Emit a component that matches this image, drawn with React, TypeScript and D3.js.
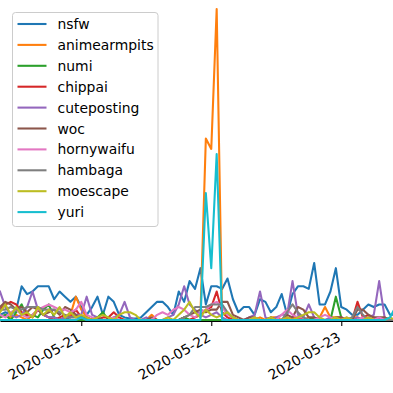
import React, { useEffect, useRef } from 'react';
import * as d3 from 'd3';

// hourly counts starting 2020-05-20 09:00 UTC
const startTime = new Date(Date.UTC(2020, 4, 20, 9));
const endTime = new Date(Date.UTC(2020, 4, 23, 9, 33));

const tickDates = ['2020-05-21', '2020-05-22', '2020-05-23'];

const seriesNames = ['nsfw', 'animearmpits', 'numi', 'chippai', 'cuteposting', 'woc', 'hornywaifu', 'hambaga', 'moescape', 'yuri'];
const colors = ['#1f77b4', '#ff7f0e', '#2ca02c', '#d62728', '#9467bd', '#8c564b', '#e377c2', '#7f7f7f', '#bcbd22', '#17becf'];

const nsfw = [
  1, 1.5, 1, 2, 6.5, 5, 5.5, 6.5, 6.5, 6.5,
  4, 5.5, 4.5, 3.5, 4.5, 2.5, 1, 2.5, 4.5, 1,
  4.5, 3.5, 1, 0.5, 0.3, 0.3, 0.5, 1.5, 2.5, 3.5,
  3.5, 2.5, 1, 5.5, 3.5, 7.5, 6, 10, 3, 6.5,
  6.5, 6, 8, 4, 1.5, 2.5, 2.5, 1, 4, 3.5,
  1.5, 2.5, 5, 1, 5, 6.5, 6.5, 6, 11, 3,
  3, 5.5, 10, 2.5, 2, 1, 1, 2, 3, 2.5,
  3, 3, 1, 1,
];
const animearmpits = [
  0.5, 1, 0.5, 1, 0.5, 0, 1, 2, 1, 0.5,
  0.5, 0, 0.5, 1, 4.5, 2, 0.5, 0, 0.5, 0,
  0, 0.5, 0, 0, 0, 0, 0, 0, 1, 0,
  0, 0, 0, 0, 0.5, 0, 0.5, 1, 35, 33,
  60, 0, 0, 0.5, 0, 0, 0, 0, 0.5, 0,
  0.5, 0.5, 0, 0, 0.5, 0.5, 0, 0.5, 0, 0.5,
  2.5, 0.5, 0.5, 0.5, 0, 0.5, 0.5, 0, 0.5, 0,
  0.5, 0, 0, 0,
];
const numi = [
  0.5, 1, 0, 1.5, 3, 0.5, 1, 0.5, 2, 3,
  0.5, 0, 0.5, 0, 0, 0, 0, 0, 0.5, 1.5,
  0, 0, 0, 0, 0, 0, 0, 0, 0, 0,
  0, 0, 0, 0, 0.5, 0, 0, 0, 0, 0,
  0, 0, 0, 0, 0, 0, 0, 0.5, 0, 0,
  0, 0, 0, 0, 0, 0, 0, 0, 0.5, 0,
  0, 0, 4.5, 0.5, 0, 0, 0, 0, 0, 0,
  0, 0, 0, 0,
];
const chippai = [
  2, 3, 3.5, 3, 1.5, 1, 0.5, 2, 1, 0.5,
  0, 0.5, 1, 0.5, 2, 0.5, 0.5, 0, 0, 0.5,
  0.5, 1.5, 0.5, 0, 0, 0, 0, 0, 0, 0,
  0, 0, 0, 0, 0, 0, 0.5, 1, 2, 2.5,
  5.5, 1.5, 0.5, 0, 0, 0, 0, 0, 0, 0,
  0, 0, 0, 0.5, 0, 0.5, 0, 0, 0, 0,
  0, 0, 0, 0.5, 0, 0, 3.5, 0.5, 1, 0.5,
  0, 0.5, 0, 0,
];
const cuteposting = [
  5.5, 2.5, 1, 0.5, 1, 2.5, 5.5, 2, 1, 0.5,
  0.5, 0, 0.5, 0.5, 1, 1, 4.5, 1, 0.5, 0,
  0, 0.5, 1, 3.5, 0.5, 0, 0, 0.5, 0, 0,
  0, 0.5, 1, 3, 6.5, 3, 2, 1, 0.5, 1,
  1.5, 0.5, 0, 0, 0, 0, 0.5, 1, 5.5, 0.5,
  0, 0.5, 1, 1, 7.5, 1, 0.5, 3, 0.5, 0,
  0, 0.5, 0, 0, 0, 0, 0.5, 0, 0.5, 1,
  7.5, 0.5, 0, 0,
];
const woc = [
  2.5, 3.5, 3, 2, 2.5, 1.5, 2.5, 2, 1, 1.5,
  2, 1, 2.5, 2, 1, 0.5, 0.5, 0, 0.5, 0,
  0, 0, 0, 0, 0, 0, 0, 0, 0.5, 0,
  0, 0, 0, 0, 0.5, 1, 1.5, 2, 1.5, 2,
  2, 3.5, 3.5, 1, 0.5, 0, 0.5, 0.5, 0, 0,
  0.5, 0, 0, 1, 0.5, 2.5, 2, 0.5, 0.5, 0,
  0, 0, 0.5, 0.5, 0, 0, 2, 2, 1, 0.5,
  0.5, 0.5, 0, 0,
];
const hornywaifu = [
  1, 0.5, 1.5, 2, 1, 0.5, 1, 2, 2.5, 3,
  2.5, 2, 2, 1.5, 2, 3.5, 1, 0.5, 0, 0,
  0, 0.5, 0, 0, 0, 0, 0, 0, 0, 1,
  1.5, 1, 2, 2.5, 2, 1, 0.5, 1.5, 2, 3,
  3.5, 2.5, 1, 0.5, 0, 0, 0, 0.5, 0, 0,
  0, 0, 1, 2, 1, 0.5, 0.5, 0, 0, 0.5,
  1, 0.5, 0, 0, 0.5, 0, 0, 0.5, 0, 0,
  0.5, 0, 0, 0,
];
const hambaga = [
  2, 2, 2.5, 2, 2, 2.5, 2.5, 2.5, 2, 2,
  2, 1.5, 1, 0.5, 0.5, 0.5, 0, 0, 0, 0,
  0, 0, 0, 0, 0, 0, 0, 0, 0, 0,
  0, 0, 0, 0, 0.5, 1, 2.5, 2.5, 2.5, 3,
  3, 3, 1.5, 0.5, 0, 0, 0, 0, 0, 0,
  0, 0, 0, 1.5, 3, 1.5, 0.5, 0, 0, 0,
  0, 0, 0, 0, 0, 0.5, 2.5, 1, 0, 0,
  0, 0, 0, 0,
];
const moescape = [
  1.5, 3, 1, 2.5, 1, 1.5, 0.5, 2.5, 1, 2,
  1, 2.5, 0.5, 1.5, 0.5, 1, 0.5, 0, 0.5, 1,
  0.5, 0, 1, 1.5, 1.5, 1, 0, 0, 0, 0,
  0, 0.5, 0, 1, 2, 3.5, 1.5, 0.5, 2, 1,
  0.5, 1, 1.5, 0.5, 0, 0, 0, 0.5, 0, 0,
  0.5, 0, 0, 0.5, 0, 0.5, 1, 1.5, 1.5, 0.5,
  0, 0, 0.5, 0, 0.5, 0, 0, 0, 0.5, 0,
  0, 0, 0.5, 0,
];
const yuri = [
  0, 0, 0, 0, 0, 0, 0, 0, 0, 0,
  0, 0, 0, 0, 0, 0.5, 0, 0, 0, 0,
  0, 0, 0, 0, 0, 0, 0, 0, 0, 0,
  0, 0, 0, 0, 0, 0, 0, 0, 24.5, 10,
  32, 0, 0, 0, 0, 0, 0, 0, 0, 0,
  0, 0, 0, 0, 0, 0, 0, 0, 0, 0,
  0, 0, 0, 0, 0, 0, 0, 0, 0, 0,
  0, 0, 0.5, 2.5,
];

const seriesValues = [nsfw, animearmpits, numi, chippai, cuteposting, woc, hornywaifu, hambaga, moescape, yuri];

const W = 393, H = 393;
const FONT = 'DejaVu Sans, sans-serif';

const App: React.FC = () => {
  const ref = useRef<SVGSVGElement>(null);

  useEffect(() => {
    if (!ref.current) return;
    const svg = d3.select(ref.current);
    svg.selectAll('*').remove();

    const plotBottom = 320;
    const x = d3.scaleUtc().domain([startTime, endTime]).range([0, W]);
    const y = d3.scaleLinear().domain([0, 60]).range([plotBottom, 9]);

    svg.append('defs').append('clipPath').attr('id', 'plot-clip')
      .append('rect').attr('x', 0).attr('y', 0).attr('width', W).attr('height', plotBottom + 2);

    // x axis
    const axis = svg.append('g')
      .attr('transform', `translate(0,${plotBottom + 1})`)
      .call(
        d3.axisBottom(x)
          .tickValues(tickDates.map(s => d3.utcParse('%Y-%m-%d')(s) as Date))
          .tickFormat(d => d3.utcFormat('%Y-%m-%d')(d as Date))
          .tickSize(5)
          .tickSizeOuter(0)
      );
    axis.select('.domain').attr('stroke', '#000').attr('stroke-width', 1.1);
    axis.selectAll('.tick line').attr('stroke', '#000').attr('stroke-width', 1.1);
    axis.selectAll('.tick text')
      .attr('font-family', FONT)
      .attr('font-size', 13.9)
      .attr('fill', '#000')
      .attr('text-anchor', 'end')
      .attr('x', 0)
      .attr('y', 0)
      .attr('dy', null)
      .attr('transform', 'translate(0,19) rotate(-30)');

    const line = d3.line<number>()
      .x((_, i) => x(d3.utcHour.offset(startTime, i)))
      .y(d => y(d));

    const lines = svg.append('g').attr('clip-path', 'url(#plot-clip)');
    seriesValues.forEach((vals, k) => {
      lines.append('path')
        .datum(vals)
        .attr('fill', 'none')
        .attr('stroke', colors[k])
        .attr('stroke-width', 2.08)
        .attr('stroke-linejoin', 'round')
        .attr('stroke-linecap', 'square')
        .attr('d', line);
    });

    // legend
    const legend = svg.append('g');
    legend.append('rect')
      .attr('x', 12.5).attr('y', 12.5)
      .attr('width', 145.5).attr('height', 214)
      .attr('rx', 3)
      .attr('fill', 'white').attr('fill-opacity', 0.8)
      .attr('stroke', '#cccccc').attr('stroke-width', 1);
    seriesNames.forEach((name, k) => {
      const cy = 24 + k * 20.9;
      legend.append('line')
        .attr('x1', 17.5).attr('x2', 46.5)
        .attr('y1', cy).attr('y2', cy)
        .attr('stroke', colors[k]).attr('stroke-width', 2.08);
      legend.append('text')
        .attr('x', 57.5).attr('y', cy + 5)
        .attr('font-family', FONT).attr('font-size', 13.9)
        .attr('fill', '#000')
        .text(name);
    });
  }, []);

  return (
    <svg
      ref={ref}
      width={W}
      height={H}
      style={{ position: 'absolute', left: 0, top: 0, background: 'white' }}
    />
  );
};

export default App;
